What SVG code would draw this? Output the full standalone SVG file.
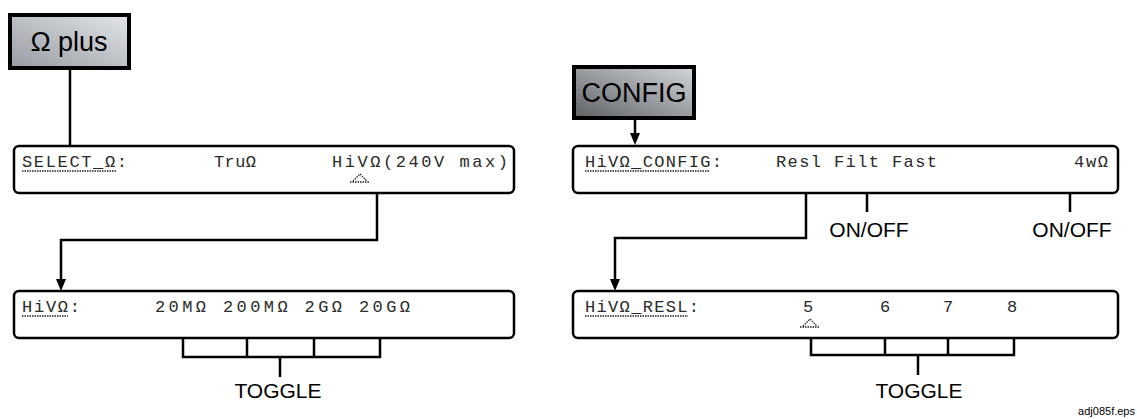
<svg xmlns="http://www.w3.org/2000/svg" width="1137" height="419" viewBox="0 0 1137 419">
<defs>
<linearGradient id="gLight" x1="0" y1="1" x2="1" y2="0">
<stop offset="0" stop-color="#979ca3"/>
<stop offset="1" stop-color="#e2e5e8"/>
</linearGradient>
<linearGradient id="gDark" x1="0" y1="1" x2="1" y2="0">
<stop offset="0" stop-color="#5e6267"/>
<stop offset="1" stop-color="#d3d6d9"/>
</linearGradient>
</defs>
<style>
.key{stroke:#000;stroke-width:4}
.keytxt{font-family:"Liberation Sans",Arial,sans-serif;font-size:27px;fill:#000}
.lcd{fill:#fff;stroke:#000;stroke-width:2.5}
.lt{font-family:"Liberation Mono","DejaVu Sans Mono",monospace;font-size:17px;fill:#2a2a2a}
.ul{stroke:#222;stroke-width:1.5;stroke-dasharray:1.5 1}
.car{fill:none;stroke:#222;stroke-width:1.3;stroke-dasharray:1.5 1}
.c{fill:none;stroke:#000;stroke-width:2.5}
.ah{fill:#000}
.lbl{font-family:"Liberation Sans",Arial,sans-serif;font-size:21px;fill:#000}
.small{font-family:"Liberation Sans",Arial,sans-serif;font-size:11px;fill:#000}
</style>

<g id="key-ohm-plus">
<rect class="key" x="10" y="15" width="119" height="53" fill="url(#gLight)"/>
<text class="keytxt" x="69" y="51" text-anchor="middle">Ω plus</text>
</g>

<g id="key-config">
<rect class="key" x="574" y="67" width="120" height="51" fill="url(#gDark)"/>
<text class="keytxt" x="634" y="102" text-anchor="middle">CONFIG</text>
</g>

<g id="lcd-select">
<rect class="lcd" x="14" y="146" width="500" height="47" rx="5"/>
<text class="lt" x="22" y="167" textLength="105" lengthAdjust="spacing">SELECT_Ω:</text>
<line class="ul" x1="22" y1="171" x2="116" y2="171"/>
<text class="lt" x="214" y="167" textLength="42" lengthAdjust="spacing">TruΩ</text>
<text class="lt" x="332" y="167" textLength="176" lengthAdjust="spacing">HiVΩ(240V  max)</text>
<path class="car" d="M350,182 L370,182 M353,181 L360,174 L367,181"/>
</g>

<g id="lcd-hiv">
<rect class="lcd" x="14" y="291" width="500" height="47" rx="5"/>
<text class="lt" x="22" y="312" textLength="58" lengthAdjust="spacing">HiVΩ:</text>
<line class="ul" x1="22" y1="316" x2="68" y2="316"/>
<text class="lt" x="155" y="312" textLength="255" lengthAdjust="spacing">20MΩ 200MΩ 2GΩ  20GΩ</text>
</g>

<g id="lcd-config">
<rect class="lcd" x="573" y="146" width="545" height="47" rx="5"/>
<text class="lt" x="585" y="167" textLength="137" lengthAdjust="spacing">HiVΩ_CONFIG:</text>
<line class="ul" x1="585" y1="171" x2="710" y2="171"/>
<text class="lt" x="776" y="167" textLength="161" lengthAdjust="spacing">Resl Filt Fast</text>
<text class="lt" x="1074" y="167" textLength="34" lengthAdjust="spacing">4wΩ</text>
</g>

<g id="lcd-resl">
<rect class="lcd" x="573" y="291" width="545" height="47" rx="5"/>
<text class="lt" x="585" y="312" textLength="114" lengthAdjust="spacing">HiVΩ_RESL:</text>
<line class="ul" x1="585" y1="316" x2="688" y2="316"/>
<text class="lt" x="803" y="312">5</text>
<text class="lt" x="880" y="312">6</text>
<text class="lt" x="943" y="312">7</text>
<text class="lt" x="1007" y="312">8</text>
<path class="car" d="M800,327 L820,327 M803,326 L810,319 L817,326"/>
</g>

<g id="labels">
<text class="lbl" x="278" y="398" text-anchor="middle">TOGGLE</text>
<text class="lbl" x="919" y="398" text-anchor="middle">TOGGLE</text>
<text class="lbl" x="869" y="237" text-anchor="middle">ON/OFF</text>
<text class="lbl" x="1072" y="237" text-anchor="middle">ON/OFF</text>
<text class="small" x="1135" y="415" text-anchor="end">adj085f.eps</text>
</g>

<g id="connectors">
<line class="c" x1="70" y1="68" x2="70" y2="146"/>
<polyline class="c" points="377,193 377,240 61,240 61,280"/>
<path class="ah" d="M56,279 L66,279 L61,291 Z"/>
<line class="c" x1="635" y1="118" x2="635" y2="134"/>
<path class="ah" d="M630,133 L640,133 L635,145 Z"/>
<polyline class="c" points="806,193 806,238 615,238 615,280"/>
<path class="ah" d="M610,279 L620,279 L615,291 Z"/>
<line class="c" x1="867" y1="193" x2="867" y2="212"/>
<line class="c" x1="1070" y1="193" x2="1070" y2="212"/>
<polyline class="c" points="183,338 183,357 380,357 380,338"/>
<line class="c" x1="247" y1="338" x2="247" y2="357"/>
<line class="c" x1="314" y1="338" x2="314" y2="357"/>
<line class="c" x1="280" y1="357" x2="280" y2="377"/>
<polyline class="c" points="811,338 811,355 1014,355 1014,338"/>
<line class="c" x1="885" y1="338" x2="885" y2="355"/>
<line class="c" x1="948" y1="338" x2="948" y2="355"/>
<line class="c" x1="918" y1="355" x2="918" y2="375"/>
</g>
</svg>
